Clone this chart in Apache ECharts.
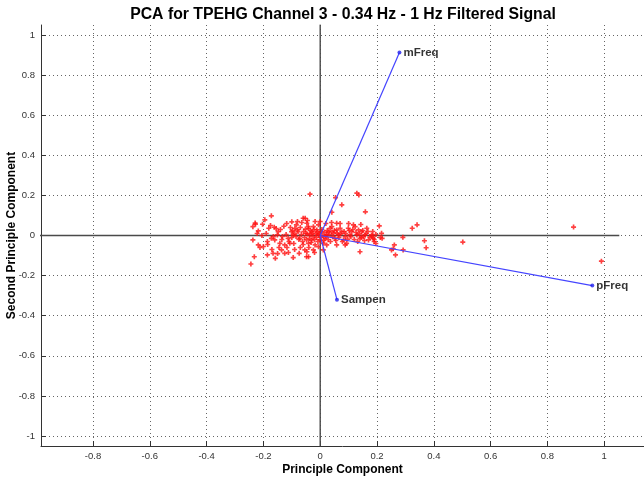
<!DOCTYPE html>
<html>
<head>
<meta charset="utf-8">
<script src="https://cdn.jsdelivr.net/npm/echarts@6/dist/echarts.min.js"></script>
<style>html,body{margin:0;padding:0;background:#fff}#c{width:644px;height:481px}</style>
</head>
<body>
<div id="c"></div>
<script>
const titleText = 'PCA for TPEHG Channel 3 - 0.34 Hz - 1 Hz Filtered Signal';
const xName = 'Principle Component';
const yName = 'Second Principle Component';
const xTicks = [-0.8, -0.6, -0.4, -0.2, 0, 0.2, 0.4, 0.6, 0.8, 1];
const yTicks = [-1, -0.8, -0.6, -0.4, -0.2, 0, 0.2, 0.4, 0.6, 0.8, 1];
const varNames = ['mFreq', 'pFreq', 'Sampen'];
const varX = [0.279, 0.958, 0.059];
const varY = [0.913, -0.250, -0.320];
const axisLen = 1.053;
const scores = [
  [-0.172,0.098],[-0.228,0.056],[-0.237,0.044],[-0.195,0.078],[-0.203,0.056],[-0.218,0.023],
  [-0.181,0.036],[-0.162,0.041],[-0.128,0.046],[-0.148,0.019],[-0.237,-0.022],[-0.218,-0.047],
  [-0.212,-0.060],[-0.200,-0.055],[-0.186,-0.030],[-0.172,-0.014],[-0.160,-0.022],[-0.151,0.003],
  [-0.142,-0.039],[-0.133,-0.005],[-0.125,-0.047],[-0.113,-0.014],[-0.107,-0.039],[-0.101,0.019],
  [-0.095,0.003],[-0.089,0.036],[-0.084,0.053],[-0.078,0.019],[-0.072,-0.014],[-0.060,0.086],
  [-0.232,-0.106],[-0.244,-0.142],[-0.186,-0.097],[-0.166,-0.089],[-0.158,-0.114],[-0.136,-0.072],
  [-0.125,-0.089],[-0.095,-0.110],[-0.074,-0.089],[-0.054,-0.072],[-0.048,-0.106],[-0.229,0.062],
  [-0.140,0.030],[-0.135,-0.020],[-0.120,0.005],[-0.118,0.060],[-0.110,-0.030],[-0.105,0.040],
  [-0.100,-0.010],[-0.097,0.025],[-0.093,-0.040],[-0.117,-0.060],[-0.145,-0.060],[-0.090,-0.070],
  [-0.070,-0.060],[-0.060,-0.045],[-0.040,-0.060],[-0.020,-0.085],[-0.065,0.065],[-0.045,0.075],
  [-0.080,0.070],[-0.100,0.068],[-0.190,0.010],[-0.175,0.050],[-0.165,-0.005],[-0.155,0.035],
  [-0.185,-0.045],[-0.205,0.000],[-0.222,0.010],[-0.170,-0.070],[-0.150,-0.090],[-0.112,-0.085],
  [-0.036,0.206],[0.129,0.211],[0.136,0.202],[0.054,0.189],[0.076,0.153],[0.041,0.116],[0.159,0.118],
  [-0.053,0.086],[-0.047,0.061],[-0.041,0.036],[-0.050,0.011],[-0.036,0.003],[-0.030,0.019],
  [-0.024,0.044],[-0.018,0.070],[-0.012,0.028],[-0.006,0.053],[-0.006,0.003],[0.000,-0.022],
  [0.005,0.019],[-0.030,-0.022],[-0.041,-0.039],[-0.018,-0.047],[-0.024,-0.072],[-0.047,-0.081],
  [-0.041,-0.106],[-0.006,-0.056],[0.011,-0.039],[0.017,-0.014],[0.023,0.003],[0.029,0.019],
  [0.035,0.036],[0.041,0.044],[0.047,0.011],[0.052,-0.014],[0.058,0.061],[0.058,0.028],
  [0.064,0.003],[0.070,0.036],[0.076,0.019],[0.082,-0.022],[0.088,-0.006],[0.093,-0.039],
  [0.099,0.036],[0.105,0.003],[0.111,0.019],[0.117,0.053],[0.123,0.044],[0.129,0.003],
  [0.135,0.028],[0.140,-0.014],[0.146,0.019],[0.152,-0.006],[0.158,0.003],[0.164,0.036],
  [0.170,-0.022],[0.181,0.003],[0.187,-0.014],[0.011,-0.072],[0.023,-0.047],[0.058,-0.047],
  [0.088,-0.047],[0.140,-0.081],
  [-0.090,0.010],[-0.085,-0.005],[-0.080,0.028],[-0.075,-0.020],[-0.070,0.040],[-0.066,0.005],
  [-0.062,-0.030],[-0.058,0.020],[-0.055,-0.010],[-0.052,0.032],[-0.048,-0.022],[-0.045,0.008],
  [-0.042,0.045],[-0.038,-0.015],[-0.035,0.025],[-0.032,-0.035],[-0.028,0.012],[-0.025,-0.005],
  [-0.022,0.030],[-0.020,-0.020],[-0.016,0.008],[-0.013,-0.010],[-0.010,0.018],[-0.008,-0.030],
  [-0.004,0.010],[0.003,-0.008],[0.006,0.030],[0.010,0.000],[0.013,-0.025],[0.016,0.015],
  [0.020,-0.004],[0.025,0.025],[0.028,-0.020],[0.032,0.006],[0.036,-0.030],[0.040,0.018],
  [0.044,-0.006],[0.050,0.025],[0.055,-0.025],[0.060,0.012],[0.066,-0.010],[0.072,0.008],
  [0.078,-0.030],[0.084,0.020],[0.090,0.010],[0.096,-0.018],[0.102,0.025],[0.108,-0.006],
  [0.115,0.030],[0.120,-0.020],[0.126,0.015],[0.132,-0.030],[0.138,0.008],[0.145,-0.010],
  [0.150,0.025],[0.156,-0.025],[0.162,0.010],[0.168,0.020],[0.175,-0.008],[0.185,0.020],
  [0.190,-0.030],[0.196,0.005],[0.000,0.070],[0.020,0.060],[0.040,0.065],[0.070,0.060],
  [0.100,0.060],[0.143,0.055],
  [0.208,0.048],[0.216,0.011],[0.218,-0.014],[0.183,-0.005],[0.190,-0.020],[0.196,-0.040],
  [0.212,-0.010],[0.291,-0.009],[0.324,0.036],[0.341,0.053],[0.367,-0.026],[0.373,-0.061],
  [0.251,-0.072],[0.257,-0.066],[0.261,-0.047],[0.265,-0.097],[0.292,-0.072],
  [0.502,-0.033],[0.892,0.042],[0.990,-0.128]
];

const fmt = v => String(Number(v.toFixed(1)));
const font = 'Liberation Sans, Arial, Helvetica, sans-serif';
const gridLine = {show: true, lineStyle: {type: [1, 3], color: '#666', width: 1}};

const series = [];
series.push({type: 'line', data: [[-axisLen, 0], [axisLen, 0]], symbol: 'none', silent: true,
  lineStyle: {color: '#4a4a4a', width: 1.4}, z: 2});
series.push({type: 'line', data: [[0, -axisLen], [0, axisLen]], symbol: 'none', silent: true,
  lineStyle: {color: '#4a4a4a', width: 1.4}, z: 2});
series.push({type: 'scatter', data: scores, symbol: 'path://M1,0H2V1H3V2H2V3H1V2H0V1H1Z',
  symbolSize: 5, itemStyle: {color: '#ff1010'}, silent: true, z: 3});
for (let i = 0; i < varNames.length; i++) {
  series.push({type: 'line', data: [[0, 0], [varX[i], varY[i]]], symbol: 'none', silent: true,
    lineStyle: {color: '#4444ff', width: 1.2}, z: 4});
}
series.push({type: 'scatter', data: varNames.map((n, i) => ({value: [varX[i], varY[i]], name: n})),
  symbol: 'circle', symbolSize: 4, itemStyle: {color: '#2222ee'}, silent: true, z: 5,
  label: {show: true, position: 'right', distance: 2, formatter: p => p.name,
    fontFamily: font, fontWeight: 'bold', fontSize: 11.5, color: '#000'}});

const chart = echarts.init(document.getElementById('c'), null, {renderer: 'canvas'});
chart.setOption({
  animation: false,
  backgroundColor: '#fff',
  title: {text: titleText, left: 338, top: 2, textAlign: 'center',
    textStyle: {fontFamily: font, fontWeight: 'bold', fontSize: 15.8, color: '#000'}},
  grid: {left: 41, right: 0, top: 25, bottom: 35, containLabel: false, outerBoundsMode: 'none'},
  xAxis: {type: 'value', min: -0.983, max: 1.14, position: 'bottom',
    name: xName, nameLocation: 'middle', nameGap: 18, nameMoveOverlap: false,
    nameTextStyle: {fontFamily: font, fontWeight: 'bold', fontSize: 12, color: '#000', verticalAlign: 'top'},
    axisLine: {onZero: false, lineStyle: {color: '#333', width: 1}},
    axisTick: {inside: true, length: 5, customValues: xTicks, lineStyle: {color: '#333'}},
    axisLabel: {customValues: xTicks, formatter: fmt, fontFamily: font, fontSize: 9.5, color: '#333', margin: 5},
    splitLine: gridLine},
  yAxis: {type: 'value', min: -1.05, max: 1.05, position: 'left',
    name: yName, nameLocation: 'middle', nameGap: 23, nameMoveOverlap: false,
    nameTextStyle: {fontFamily: font, fontWeight: 'bold', fontSize: 12, color: '#000'},
    axisLine: {onZero: false, lineStyle: {color: '#333', width: 1}},
    axisTick: {inside: true, length: 5, customValues: yTicks, lineStyle: {color: '#333'}},
    axisLabel: {customValues: yTicks, formatter: fmt, fontFamily: font, fontSize: 9.5, color: '#333', margin: 6},
    splitLine: gridLine},
  series: series
});
</script>
</body>
</html>
